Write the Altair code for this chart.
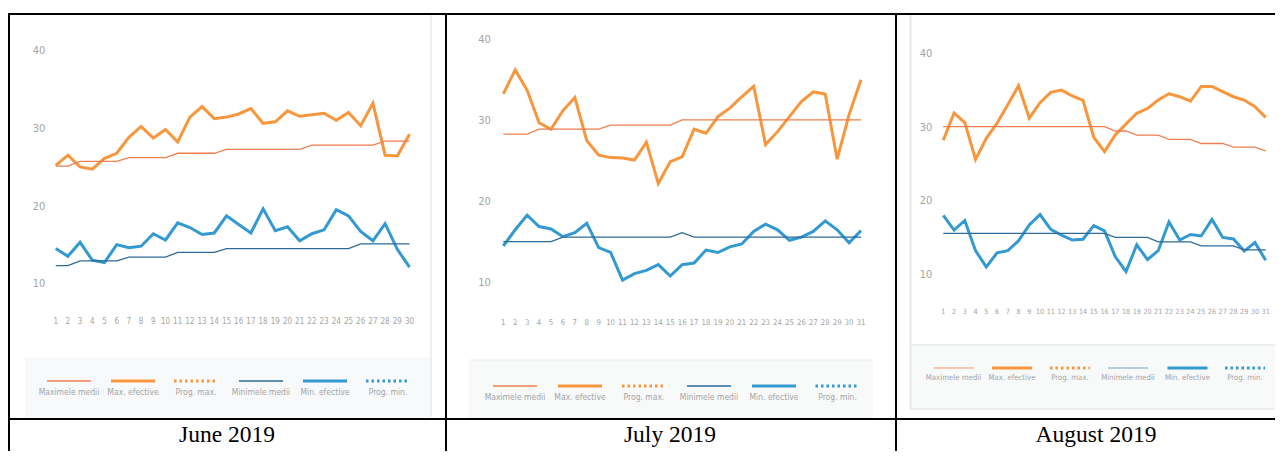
import altair as alt
import pandas as pd

# ---------------- data ----------------
days_june = list(range(1, 31))
days_jul = list(range(1, 32))
days_aug = list(range(1, 32))
y_ticks = [10, 20, 30, 40]

june_max_avg = [25.2, 25.2, 25.8, 25.8, 25.8, 25.8, 26.3, 26.3, 26.3, 26.3,
                26.85, 26.85, 26.85, 26.85, 27.35, 27.35, 27.35, 27.35, 27.35, 27.35,
                27.35, 27.9, 27.9, 27.9, 27.9, 27.9, 27.9, 28.4, 28.4, 28.4]
june_max_eff = [25.3, 26.6, 25.1, 24.8, 26.2, 26.85, 28.9, 30.3, 28.8, 29.9,
                28.3, 31.5, 32.85, 31.3, 31.5, 31.9, 32.6, 30.7, 30.9, 32.3,
                31.6, 31.8, 32.0, 31.1, 32.1, 30.4, 33.3, 26.6, 26.5, 29.3]
june_min_avg = [12.4, 12.4, 13.0, 13.0, 13.0, 13.0, 13.5, 13.5, 13.5, 13.5,
                14.1, 14.1, 14.1, 14.1, 14.6, 14.6, 14.6, 14.6, 14.6, 14.6,
                14.6, 14.6, 14.6, 14.6, 14.6, 15.2, 15.2, 15.2, 15.2, 15.2]
june_min_eff = [14.6, 13.6, 15.4, 13.1, 12.8, 15.1, 14.7, 14.9, 16.5, 15.7,
                17.9, 17.3, 16.4, 16.6, 18.8, 17.7, 16.6, 19.7, 16.9, 17.4,
                15.6, 16.5, 17.0, 19.6, 18.8, 16.8, 15.6, 17.8, 14.5, 12.2]

jul_max_avg = [28.4, 28.4, 28.4, 29.0, 29.0, 29.0, 29.0, 29.0, 29.0, 29.5,
               29.5, 29.5, 29.5, 29.5, 29.5, 30.15, 30.15, 30.15, 30.15, 30.15,
               30.15, 30.15, 30.15, 30.15, 30.15, 30.15, 30.15, 30.15, 30.15, 30.15, 30.15]
jul_max_eff = [33.35, 36.3, 33.8, 29.8, 29.0, 31.3, 32.9, 27.6, 25.8, 25.5,
               25.45, 25.2, 27.4, 22.3, 25.0, 25.6, 29.0, 28.5, 30.55, 31.6,
               33.0, 34.3, 27.1, 28.7, 30.55, 32.4, 33.6, 33.35, 25.3, 30.8, 35.1]
jul_min_avg = [15.15, 15.15, 15.15, 15.15, 15.15, 15.7, 15.7, 15.7, 15.7, 15.7,
               15.7, 15.7, 15.7, 15.7, 15.7, 16.25, 15.7, 15.7, 15.7, 15.7,
               15.7, 15.7, 15.7, 15.7, 15.7, 15.7, 15.7, 15.7, 15.7, 15.7, 15.7]
jul_min_eff = [14.6, 16.6, 18.4, 17.0, 16.7, 15.75, 16.25, 17.4, 14.4, 13.8,
               10.4, 11.2, 11.6, 12.3, 10.9, 12.3, 12.5, 14.1, 13.8, 14.5,
               14.85, 16.4, 17.3, 16.6, 15.3, 15.7, 16.4, 17.7, 16.6, 15.0, 16.5]

aug_max_avg = [30.15, 30.15, 30.15, 30.15, 30.15, 30.15, 30.15, 30.15, 30.15, 30.15,
               30.15, 30.15, 30.15, 30.15, 30.15, 30.15, 29.55, 29.55, 29.0, 29.0,
               29.0, 28.4, 28.4, 28.4, 27.85, 27.85, 27.85, 27.35, 27.35, 27.35, 26.85]
aug_max_eff = [28.3, 32.0, 30.7, 25.7, 28.55, 30.6, 33.1, 35.7, 31.3, 33.4,
               34.8, 35.1, 34.3, 33.7, 28.7, 26.75, 29.0, 30.5, 31.95, 32.6,
               33.75, 34.6, 34.2, 33.6, 35.6, 35.6, 34.9, 34.2, 33.75, 32.85, 31.4]
aug_min_avg = [15.65, 15.65, 15.65, 15.65, 15.65, 15.65, 15.65, 15.65, 15.65, 15.65,
               15.65, 15.65, 15.65, 15.65, 15.65, 15.65, 15.1, 15.1, 15.1, 15.1,
               14.5, 14.5, 14.5, 14.5, 13.95, 13.95, 13.95, 13.95, 13.4, 13.4, 13.4]
aug_min_eff = [18.1, 16.1, 17.4, 13.3, 11.1, 13.0, 13.3, 14.65, 16.8, 18.2,
               16.2, 15.4, 14.75, 14.85, 16.7, 16.0, 12.5, 10.45, 14.1, 12.1,
               13.3, 17.2, 14.75, 15.5, 15.3, 17.55, 15.1, 14.9, 13.25, 14.4, 12.0]

legend_labels = ["Maximele medii", "Max. efective", "Prog. max.",
                 "Minimele medii", "Min. efective", "Prog. min."]
captions = ["June 2019", "July 2019", "August 2019"]

# ---------------- styles ----------------
ORANGE = "#f7963d"
SALMON = "#f07f4f"
BLUE = "#3399d1"
NAVY = "#2e6b99"
GRAY = "#a4a4a4"
LABEL_FONT = "Liberation Sans Narrow, DejaVu Sans Condensed, sans-serif"
OFF = 8  # page margin


def p(v):
    return v - OFF


one = pd.DataFrame({"k": [0]})


def rule(x1, x2, y1, y2, color, width, dash=None):
    kw = dict(color=color, strokeWidth=width)
    if dash:
        kw["strokeDash"] = dash
    return alt.Chart(one).mark_rule(**kw).encode(
        x=alt.value(p(x1)), x2=alt.value(p(x2)),
        y=alt.value(p(y1)), y2=alt.value(p(y2)))


def rect(x1, x2, y1, y2, fill):
    return alt.Chart(one).mark_rect(color=fill).encode(
        x=alt.value(p(x1)), x2=alt.value(p(x2)),
        y=alt.value(p(y1)), y2=alt.value(p(y2)))


def text(x, y, s, size, color, font, align="center"):
    return alt.Chart(one).mark_text(
        text=s, fontSize=size, color=color, font=font, align=align,
        baseline="middle").encode(x=alt.value(p(x)), y=alt.value(p(y)))


panels = [
    dict(days=days_june, max_avg=june_max_avg, max_eff=june_max_eff,
         min_avg=june_min_avg, min_eff=june_min_eff,
         xr=(55.7, 409.5), yr=(284.3, 51.0), ylab_x=39, xlab_y=322,
         xfs=8, lfs=8.5,
         leg_y=381, leg_ty=391.5, leg_w=44,
         leg_c=[69, 133, 196, 261, 325, 388],
         leg_cols=[SALMON, ORANGE, ORANGE, NAVY, BLUE, BLUE]),
    dict(days=days_jul, max_avg=jul_max_avg, max_eff=jul_max_eff,
         min_avg=jul_min_avg, min_eff=jul_min_eff,
         xr=(503.3, 861.0), yr=(283.3, 40.0), ylab_x=484.5, xlab_y=323,
         xfs=7.8, lfs=8.5,
         leg_y=386, leg_ty=397, leg_w=44,
         leg_c=[515, 580, 644, 709, 774, 837.5],
         leg_cols=[SALMON, ORANGE, ORANGE, NAVY, BLUE, BLUE]),
    dict(days=days_aug, max_avg=aug_max_avg, max_eff=aug_max_eff,
         min_avg=aug_min_avg, min_eff=aug_min_eff,
         xr=(943.3, 1265.7), yr=(275.0, 54.0), ylab_x=926, xlab_y=311.7,
         xfs=7.2, lfs=7.8,
         leg_y=368, leg_ty=378, leg_w=40,
         leg_c=[953.5, 1012, 1070, 1128, 1187.5, 1245],
         leg_cols=["#f4b49a", ORANGE, ORANGE, "#a3bbcd", BLUE, BLUE]),
]

layers = []

# panel backgrounds / light frames
layers += [
    rect(25, 430, 357, 417, "#f8f9fa"),
    rule(431, 431, 15, 417, "#e8e8e8", 1.5),
    rect(469, 873, 360, 418, "#f8f9f9"),
    rule(469, 873, 360, 360, "#eeeeee", 1),
    rect(910, 1290, 345, 409, "#f8f9f9"),
    rule(910, 1290, 345, 345, "#e8e8e8", 1.5),
    rule(910, 1290, 409, 409, "#e8e8e8", 1.5),
    rule(910.5, 910.5, 15, 409, "#e8e8e8", 2),
]

leg_widths = [1.5, 3, 3, 1.5, 3, 3]
leg_dash = [None, None, [2.5, 3], None, None, [2.5, 3]]

for pn in panels:
    n = pn["days"][-1]
    df = pd.DataFrame({"day": pn["days"], "max_avg": pn["max_avg"],
                       "max_eff": pn["max_eff"], "min_avg": pn["min_avg"],
                       "min_eff": pn["min_eff"]})
    xs = alt.Scale(domain=[1, n], range=[p(pn["xr"][0]), p(pn["xr"][1])],
                   nice=False, zero=False)
    ys = alt.Scale(domain=[10, 40], range=[p(pn["yr"][0]), p(pn["yr"][1])],
                   nice=False, zero=False)
    for field, color, w in [("max_eff", ORANGE, 3), ("min_eff", BLUE, 3),
                            ("max_avg", SALMON, 1.3), ("min_avg", NAVY, 1.3)]:
        layers.append(
            alt.Chart(df).mark_line(color=color, strokeWidth=w).encode(
                x=alt.X("day:Q", scale=xs, axis=None),
                y=alt.Y(f"{field}:Q", scale=ys, axis=None)))
    # y tick labels
    layers.append(
        alt.Chart(pd.DataFrame({"v": y_ticks})).mark_text(
            font=LABEL_FONT, fontSize=11, color=GRAY, align="center",
            baseline="middle").encode(
            y=alt.Y("v:Q", scale=ys, axis=None),
            x=alt.value(p(pn["ylab_x"])), text="v:Q"))
    # x tick labels
    layers.append(
        alt.Chart(df).mark_text(
            font=LABEL_FONT, fontSize=pn["xfs"], color=GRAY, align="center",
            baseline="middle").encode(
            x=alt.X("day:Q", scale=xs, axis=None),
            y=alt.value(p(pn["xlab_y"])), text="day:Q"))
    # legend
    for i, lab in enumerate(legend_labels):
        c = pn["leg_c"][i]
        hw = pn["leg_w"] / 2
        layers.append(rule(c - hw, c + hw, pn["leg_y"], pn["leg_y"],
                           pn["leg_cols"][i], leg_widths[i], leg_dash[i]))
        layers.append(text(c, pn["leg_ty"], lab, pn["lfs"], GRAY, LABEL_FONT))

# captions
for cx, cap in zip([227, 670, 1096], captions):
    layers.append(text(cx, 435, cap, 23.5, "#000000", "Liberation Serif, Times New Roman, serif"))

# table lines
layers += [
    rule(8, 1290, 14, 14, "#000000", 2),
    rule(9, 9, 13, 470, "#000000", 2),
    rule(446, 446, 13, 470, "#000000", 2),
    rule(896, 896, 13, 470, "#000000", 2),
    rule(8, 1290, 419, 419, "#000000", 2),
]

chart = alt.layer(*layers).resolve_scale(
    x="independent", y="independent"
).properties(
    width=1267, height=443, autosize="none", padding=0,
    background="white"
).configure_view(stroke=None)

chart.save("out.html", embed_options={"renderer": "svg", "actions": False})
